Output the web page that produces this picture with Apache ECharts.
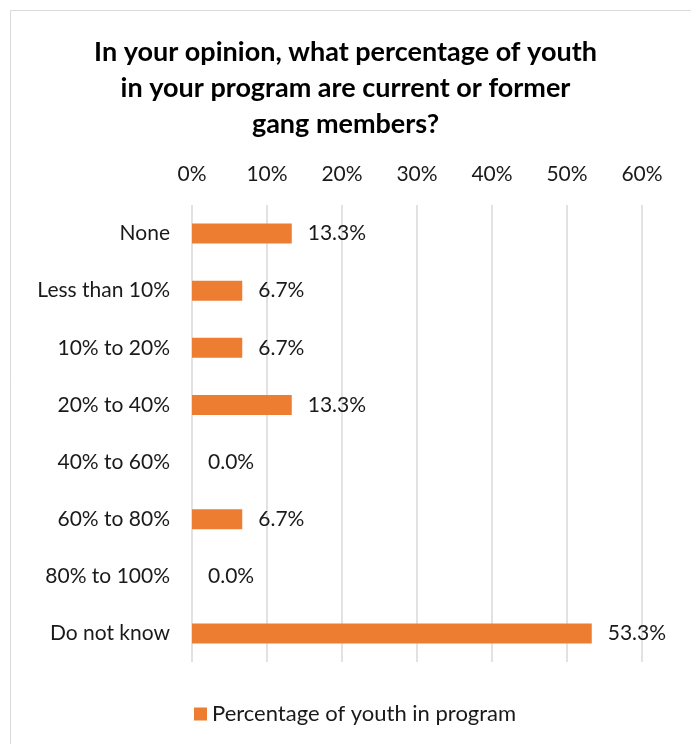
<!DOCTYPE html>
<html><head><meta charset="utf-8">
<script src="https://cdn.jsdelivr.net/npm/echarts@6/dist/echarts.min.js"></script>
<style>html,body{margin:0;padding:0;background:#fff}#c{width:691px;height:744px}</style>
</head><body><div id="c"></div>
<script>
const categories = ["None","Less than 10%","10% to 20%","20% to 40%","40% to 60%","60% to 80%","80% to 100%","Do not know"];
const values = [13.3, 6.7, 6.7, 13.3, 0.0, 6.7, 0.0, 53.3];
const seriesName = "Percentage of youth in program";
const titleText = "In your opinion, what percentage of youth\nin your program are current or former\ngang members?";
const FONT = "Lato, 'Open Sans', sans-serif";
const chart = echarts.init(document.getElementById('c'));
chart.setOption({
  animation:false,
  graphic:[{type:'rect',shape:{x:10.5,y:10.5,width:690,height:740},style:{fill:'none',stroke:'#d9d9d9',lineWidth:1}}],
  title:{text:titleText,left:'center',top:34,padding:[0,0,0,20],textStyle:{fontFamily:FONT,fontWeight:'bold',fontSize:27,lineHeight:36,color:'#000'}},
  legend:{bottom:14,left:189,itemWidth:13,itemHeight:13,icon:'rect',itemGap:8,textStyle:{fontFamily:FONT,fontSize:22,color:'#1a1a1a'}},
  grid:{left:192,right:49,top:205,bottom:82,containLabel:false},
  xAxis:{type:'value',position:'top',min:0,max:60,interval:10,
    axisLabel:{formatter:'{value}%',fontFamily:FONT,fontSize:21,color:'#1a1a1a',margin:20},
    axisLine:{show:false},axisTick:{show:false},
    splitLine:{lineStyle:{color:'#d9d9d9',width:1.5}}},
  yAxis:{type:'category',inverse:true,data:categories,
    axisLabel:{fontFamily:FONT,fontSize:21,color:'#1a1a1a',margin:22},
    axisLine:{show:false},axisTick:{show:false}},
  series:[{name:seriesName,type:'bar',data:values,barWidth:20,
    itemStyle:{color:'#ED7D31'},
    label:{show:true,position:'right',distance:16,formatter:p=>p.value.toFixed(1)+'%',fontFamily:FONT,fontSize:21,color:'#1a1a1a'}}]
});
</script></body></html>
